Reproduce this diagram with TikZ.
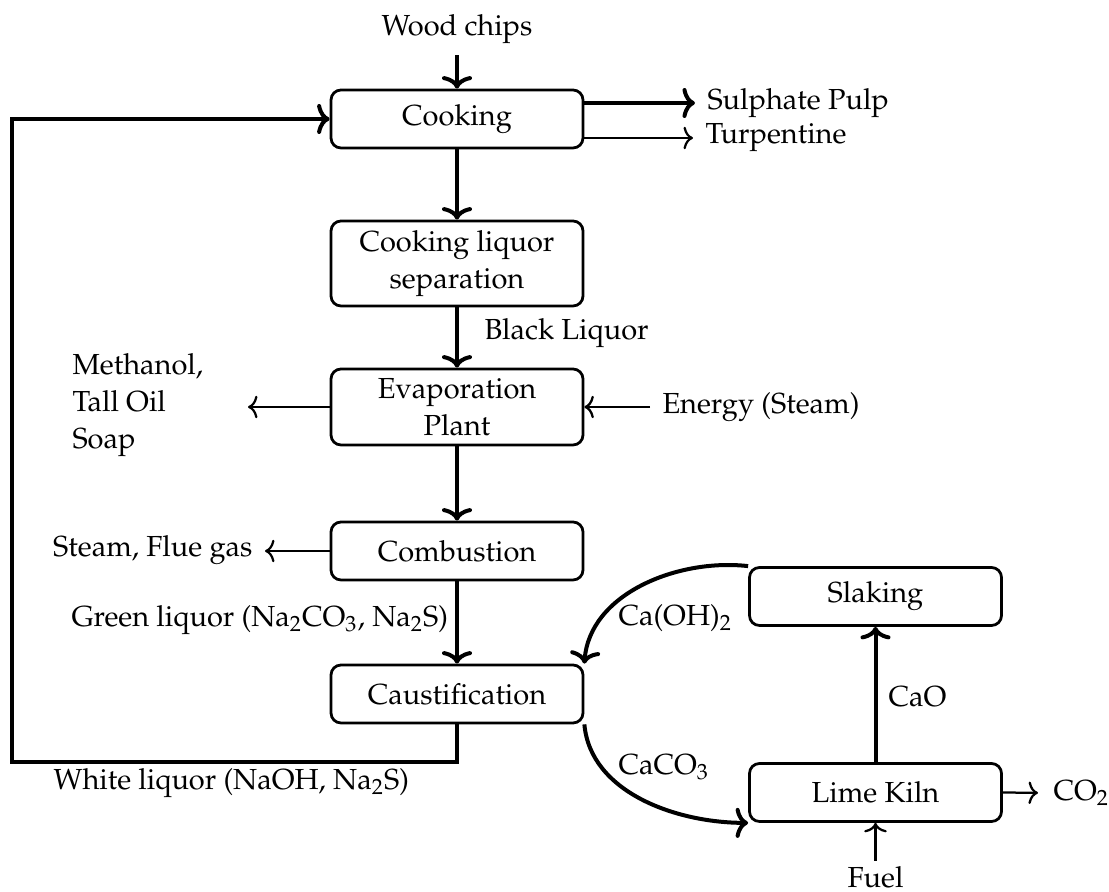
\documentclass[tikz,border=0pt]{standalone}
\usepackage[T1]{fontenc}
\usepackage{mathpazo}
\usetikzlibrary{arrows.meta}
\begin{document}
\begin{tikzpicture}[x=0.4pt,y=-0.4pt,
  font=\fontsize{11.6}{14.8}\selectfont,
  box/.style={draw,line width=1.1pt,rounded corners=4pt,minimum width=100.8pt,minimum height=23.2pt,inner sep=0pt,align=center},
  lbl/.style={inner sep=0pt,align=left},
  thickarr/.style={line width=1.6pt,-{To[length=5pt,width=12pt]}},
  thinarr/.style={line width=0.9pt,-{To[length=3.8pt,width=9pt]}}]
\useasboundingbox (0,0) rectangle (1109,892);

% process boxes
\node[box] (cook) at (457,119) {Cooking};
\node[box,minimum height=34pt] (sep) at (457,263.5) {Cooking liquor\\separation};
\node[box,minimum height=30.4pt] (evap) at (457,407) {Evaporation\\Plant};
\node[box] (comb) at (457,551) {Combustion};
\node[box] (caust) at (457,694) {Caustification};
\node[box] (slak) at (875.5,596.5) {Slaking};
\node[box] (kiln) at (875.5,792.5) {Lime Kiln};

% labels
\node[lbl] (wood) at (457,29) {Wood chips};
\node[lbl,anchor=west] (pulp) at (707,103) {Sulphate Pulp};
\node[lbl,anchor=west] (turp) at (705,138) {Turpentine};
\node[lbl,anchor=west] (black) at (484,333) {Black Liquor};
\node[lbl,anchor=west] (meth) at (72,405) {Methanol,\\Tall Oil\\Soap};
\node[lbl,anchor=west] (energy) at (662,407) {Energy (Steam)};
\node[lbl,anchor=east] (steam) at (253,550) {Steam, Flue gas};
\node[lbl,anchor=west] (green) at (71,620) {Green liquor (Na$_2$CO$_3$, Na$_2$S)};
\node[lbl,anchor=west] (white) at (53,783) {White liquor (NaOH, Na$_2$S)};
\node[lbl,anchor=west] (caoh) at (618,618) {Ca(OH)$_2$};
\node[lbl,anchor=west] (caco) at (618,767) {CaCO$_3$};
\node[lbl,anchor=west] (cao) at (888,697) {CaO};
\node[lbl,anchor=west] (co2) at (1053,793) {CO$_2$};
\node[lbl] (fuel) at (875.5,877) {Fuel};

\coordinate (methtip) at (248,407);
\coordinate (corner) at (12,762);

% connectors
\draw[thickarr,shorten <=4.5pt] (wood.south) -- (cook.north);
\draw[thickarr,shorten >=4.8pt] (cook.east |- pulp.west) -- (pulp.west);
\draw[thinarr,shorten >=4.8pt] (cook.east |- turp.west) -- (turp.west);
\draw[thickarr] (cook.south) -- (sep.north);
\draw[thickarr] (sep.south) -- (evap.north);
\draw[thickarr] (evap.south) -- (comb.north);
\draw[thickarr] (comb.south) -- (caust.north);
\draw[thinarr] (evap.west) -- (methtip);
\draw[thinarr,shorten <=4.8pt] (energy.west) -- (evap.east);
\draw[thinarr,shorten >=4.8pt] (comb.west) -- (comb.west -| steam.east);
\draw[thickarr] (caust.south) |- (corner) |- (cook.west);
\draw[thickarr] (kiln.north) -- (slak.south);
\draw[thinarr,shorten >=6pt] (kiln.east) -- (co2.west);
\draw[thinarr,shorten <=2pt] (fuel.north) -- (kiln.south);
\draw[thickarr] (slak.north west) .. controls +(-70,-8) and +(5,-70) .. (caust.north east);
\draw[thickarr] (caust.south east) .. controls +(6,68) and +(-72,0) .. (kiln.south west);
\end{tikzpicture}
\end{document}
